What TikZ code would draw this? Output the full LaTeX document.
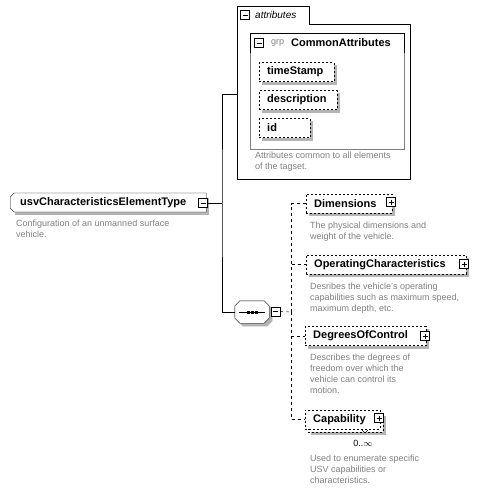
\documentclass[tikz,border=0pt]{standalone}
\usepackage{fontspec}
\setmainfont{Liberation Sans}
\usetikzlibrary{shapes.misc,positioning,backgrounds}

\definecolor{notegray}{RGB}{128,128,128}
\definecolor{shadegray}{RGB}{180,180,180}

\tikzset{
  elem/.style={draw,fill=white,anchor=west,minimum height=19pt,inner xsep=8pt,inner ysep=0pt,
    align=left,font=\fontsize{11}{13}\selectfont\bfseries},
  optelem/.style={elem,dash pattern=on 2pt off 2pt},
  note/.style={anchor=north west,inner sep=0pt,align=left,text=notegray,font=\fontsize{9}{11}\selectfont},
  iconbox/.style={draw,fill=white,minimum size=9pt,inner sep=0pt},
  minusicon/.style={iconbox,path picture={\draw ([xshift=2pt]path picture bounding box.west) -- ([xshift=-2pt]path picture bounding box.east);}},
  plusicon/.style={iconbox,path picture={\draw ([xshift=2pt]path picture bounding box.west) -- ([xshift=-2pt]path picture bounding box.east)
      ([yshift=-2pt]path picture bounding box.north) -- ([yshift=2pt]path picture bounding box.south);}},
  dashlink/.style={dash pattern=on 3pt off 3pt}
}

\begin{document}
\begin{tikzpicture}[x=1pt,y=-1pt]
  \useasboundingbox (0,0) rectangle (478,491);

  % complex type
  \node[elem,chamfered rectangle,chamfered rectangle corners={north west,south west},
    chamfered rectangle xsep=2pt,chamfered rectangle ysep=2pt,text width=176pt] (usvType) at (10,202.5) {usvCharacteristicsElementType};
  \node[minusicon] (usvMinus) at (203,203) {};
  \node[note] (usvNote) at (16,219.5) {Configuration of an unmanned surface\\vehicle.};

  % attributes
  \draw (237,179) -- (237,6) -- (309,6) -- (309,24) -- (410,24) -- (410,179) -- cycle;
  \node[minusicon] (attrMinus) at (245,15) {};
  \node[anchor=west,inner sep=0pt,font=\fontsize{10}{12}\selectfont\itshape] (attrTitle) at (255,15) {attributes};
  \draw[notegray] (250,33) rectangle (404,149);
  \draw (250,53) -- (250,33) -- (404,33) -- (404,53);
  \node[minusicon] (grpMinus) at (259,43) {};
  \node[anchor=west,inner sep=0pt,text=notegray,font=\fontsize{9}{11}\selectfont] (grpTag) at (271,43) {grp};
  \node[anchor=west,inner sep=0pt,font=\fontsize{11}{13}\selectfont\bfseries] (grpName) at (291,43) {CommonAttributes};
  \node[optelem,text width=59pt] (timeStamp) at (259,72) {timeStamp};
  \node[optelem,text width=62pt] (descr) at (259,100) {description};
  \node[optelem,text width=35pt] (ident) at (259,128) {id};
  \node[note] (attrNote) at (255,151.5) {Attributes common to all elements\\of the tagset.};
  \coordinate (attrIn) at (237,94);

  % sequence
  \node[minimum width=34pt,minimum height=22pt,inner sep=0pt] (seq) at (252,312) {};
  \foreach \sx/\fc/\dc in {3/shadegray/shadegray,0/white/black}
    \draw[fill=\fc,draw=\dc]
      ([xshift=5pt+\sx pt,yshift=-\sx pt]seq.north west) -- ([xshift=-5pt+\sx pt,yshift=-\sx pt]seq.north east)
      -- ([xshift=\sx pt,yshift=-5pt-\sx pt]seq.north east) -- ([xshift=\sx pt,yshift=5pt-\sx pt]seq.south east)
      -- ([xshift=-5pt+\sx pt,yshift=-\sx pt]seq.south east) -- ([xshift=5pt+\sx pt,yshift=-\sx pt]seq.south west)
      -- ([xshift=\sx pt,yshift=5pt-\sx pt]seq.south west) -- ([xshift=\sx pt,yshift=-5pt-\sx pt]seq.north west) -- cycle;
  \draw ([xshift=4pt]seq.west) -- ([xshift=-4pt]seq.east);
  \foreach \dx in {-4,0,4}
    \fill ([xshift=\dx pt]seq.center) ++(-1.5,-1.5) rectangle ++(3,3);
  \node[minusicon] (seqMinus) at (275.5,311.5) {};

  \coordinate (trunk) at (222,203);
  \draw (usvMinus.east) -- (trunk);
  \draw (attrIn) -| (trunk) |- (seq.west);

  % elements
  \node[optelem,text width=70pt] (dim) at (306,203.5) {Dimensions};
  \node[plusicon] (dimPlus) at (391,202) {};
  \node[note] (dimNote) at (310,221.5) {The physical dimensions and\\weight of the vehicle.};

  \node[optelem,text width=144pt] (opc) at (306,264.5) {OperatingCharacteristics};
  \node[plusicon] (opcPlus) at (464,264) {};
  \node[note] (opcNote) at (310,282.5) {Desribes the vehicle's operating\\capabilities such as maximum speed,\\maximum depth, etc.};

  \node[optelem,text width=105pt] (doc) at (305,336) {DegreesOfControl};
  \node[plusicon] (docPlus) at (425,336) {};
  \node[note] (docNote) at (310,353.5) {Describes the degrees of\\freedom over which the\\vehicle can control its\\motion.};

  \node[optelem,text width=59pt] (capBack) at (308,422.5) {\phantom{Capability}};
  \node[optelem,text width=59pt] (cap) at (305,419.5) {Capability};
  \node[plusicon] (capPlus) at (379,418) {};
  \draw (362,430) -- (365,433) -- (368,430);
  \node[inner sep=0pt,font=\fontsize{9}{11}\selectfont] (capOcc) at (363,443) {0..$\infty$};
  \node[note] (capNote) at (310,454.5) {Used to enumerate specific\\USV capabilities or\\characteristics.};

  \coordinate (seqFork) at (291,312);
  \draw[dashlink] (seqMinus.east) -- (seqFork);
  \foreach \n in {dim,opc,doc,cap}
    \draw[dashlink] (seqFork) |- (\n.west);

  % shadows
  \begin{scope}[on background layer]
    \foreach \n in {usvType,timeStamp,descr,ident,dim,opc,doc,capBack}
      \fill[shadegray] ([xshift=3pt,yshift=-3pt]\n.north west) rectangle ([xshift=3pt,yshift=-3pt]\n.south east);
  \end{scope}
\end{tikzpicture}
\end{document}
